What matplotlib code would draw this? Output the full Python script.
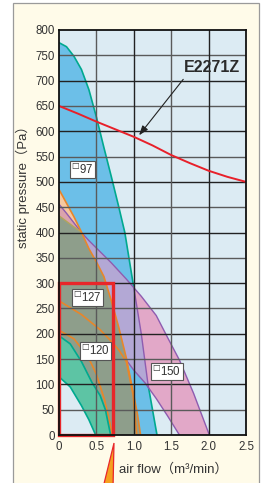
import matplotlib.pyplot as plt
from matplotlib.patches import Polygon, Rectangle

plt.rcParams['font.family'] = ['Liberation Sans', 'Noto Sans CJK JP', 'DejaVu Sans']

# fan curves: air flow (m3/min) -> static pressure (Pa)
flow_97 = [0, 0.1, 0.2, 0.3, 0.4, 0.5, 0.6, 0.7, 0.8, 0.88, 0.99, 1.1, 1.19, 1.25, 1.31]
pres_97 = [775, 767, 748, 722, 682, 628, 568, 510, 450, 400, 300, 200, 100, 50, 0]

flow_150_hi = [0, 0.1, 0.2, 0.3, 0.4, 0.55, 0.7, 0.9, 1.1, 1.3, 1.45, 1.61, 1.8, 2.01]
pres_150_hi = [456, 438, 419, 400, 384, 362, 340, 308, 274, 236, 193, 148, 82, 0]
flow_150_lo = [0, 0.3, 0.6, 0.88, 1.0, 1.15, 1.3, 1.45, 1.61]
pres_150_lo = [290, 250, 205, 152, 128, 103, 72, 38, 0]

flow_127 = [0, 0.1, 0.2, 0.29, 0.4, 0.5, 0.6, 0.7, 0.8, 0.9, 0.99, 1.05, 1.09]
pres_127 = [485, 458, 431, 404, 368, 342, 313, 265, 212, 152, 86, 40, 0]
flow_127_in = [0, 0.3, 0.55, 0.68, 0.8, 0.9, 0.99, 1.04]
pres_127_in = [265, 238, 208, 188, 168, 145, 80, 0]
flow_top = [0, 0.1, 0.2, 0.29]
pres_top = [433, 422, 411, 402]

flow_120_a = [0, 0.2, 0.39, 0.5, 0.61, 0.68, 0.71]
pres_120_a = [207, 190, 154, 120, 69, 24, 0]
flow_120_hi = [0, 0.15, 0.3, 0.44, 0.55, 0.62, 0.69]
pres_120_hi = [196, 180, 145, 104, 78, 50, 0]
flow_120_lo = [0, 0.15, 0.3, 0.4, 0.49]
pres_120_lo = [115, 95, 58, 30, 0]

# system impedance curve E2271Z
flow_sys = [0, 0.25, 0.5, 0.75, 1.0, 1.25, 1.5, 1.75, 2.0, 2.25, 2.5]
pres_sys = [650, 635, 619, 604, 589, 572, 553, 537, 522, 510, 500]

box_flow, box_pres = 0.72, 300

labels = ['97', '127', '120', '150']
label_flow = [0.31, 0.38, 0.49, 1.44]
label_pres = [524, 271, 166, 125]

x_ticks = [0, 0.5, 1.0, 1.5, 2.0, 2.5]
x_tick_labels = ['0', '0.5', '1.0', '1.5', '2.0', '2.5']
y_ticks = list(range(0, 801, 50))

BG = '#dcebf3'
TEAL = '#00a98f'
ORANGE = '#e8862a'
PURPLE = '#8e5cb0'


def band(ax, ux, uy, lx, ly, **kw):
    pts = list(zip(ux, uy)) + list(zip(lx, ly))[::-1]
    p = Polygon(pts, closed=True, **kw)
    ax.add_patch(p)
    return p


fig = plt.figure(figsize=(2.66, 4.83), dpi=100)
fig.patch.set_facecolor('white')
fig.add_artist(Rectangle((13 / 266, -0.02), 246 / 266, 0.9938 + 0.02, zorder=-5,
                         transform=fig.transFigure, fc='#fffbe9', ec='#9a9a9a', lw=0.9))

ax = fig.add_axes([59 / 266, 48 / 483, 187 / 266, 405 / 483])
ax.set_facecolor(BG)
ax.set_xlim(0, 2.5)
ax.set_ylim(0, 800)

# 97 fan
blue = band(ax, flow_97, pres_97, [0], [0], fc='#6cbfe8', ec='none', zorder=1)
ax.plot(flow_97, pres_97, color=TEAL, lw=1.2, zorder=1.1)

# 150 fan band
pink = band(ax, flow_150_hi, pres_150_hi, flow_150_lo, pres_150_lo, fc='#e2a8c8', ec='none', zorder=1.2)
lav = band(ax, flow_150_hi, pres_150_hi, flow_150_lo, pres_150_lo, fc='#b3a8d5', ec='none', zorder=1.3)
lav.set_clip_path(blue)
edge97 = ax.plot(flow_97, pres_97, color=PURPLE, lw=1.0, zorder=1.35)[0]
edge97.set_clip_path(pink)

# 127 fan
peach = band(ax, flow_127, pres_127, [0], [0], fc='#f6c8a0', ec='none', zorder=1.4)
mauve = band(ax, flow_150_hi, pres_150_hi, flow_150_lo, pres_150_lo, fc='#dba3ac', ec='none', zorder=1.45)
mauve.set_clip_path(peach)
ax.plot(flow_150_hi, pres_150_hi, color=PURPLE, lw=1.0, zorder=1.5)
ax.plot(flow_150_lo, pres_150_lo, color=PURPLE, lw=1.0, zorder=1.5)

olive_x = flow_top + [f for f in flow_127 if f > 0.3]
olive_y = pres_top + [p for f, p in zip(flow_127, pres_127) if f > 0.3]
band(ax, olive_x, olive_y, [0], [0], fc='#8e9e8b', ec='none', zorder=1.6)

# 120 fan
band(ax, flow_120_hi, pres_120_hi, flow_120_lo, pres_120_lo, fc='#5dc4a4', ec='none', zorder=1.7)
band(ax, flow_120_lo, pres_120_lo, [0], [0], fc=BG, ec='none', zorder=1.75)

ax.plot(flow_top, pres_top, color='#b3a55a', lw=1.0, zorder=1.8)
ax.plot(flow_127, pres_127, color=ORANGE, lw=1.2, zorder=1.85)
ax.plot(flow_127_in, pres_127_in, color=ORANGE, lw=1.2, zorder=1.85)
ax.plot(flow_120_a, pres_120_a, color=ORANGE, lw=1.2, zorder=1.85)
ax.plot(flow_120_hi, pres_120_hi, color=TEAL, lw=1.2, zorder=1.85)
ax.plot(flow_120_lo, pres_120_lo, color=TEAL, lw=1.2, zorder=1.85)

# grid on top of the fills
for v in y_ticks[1:-1]:
    c = '#222222' if v % 100 == 0 else '#5a5a5a'
    ax.axhline(v, color=c, lw=1.0, zorder=3)
for v in x_ticks[1:-1]:
    c = '#222222' if v in (1.0, 2.0) else '#5a5a5a'
    ax.axvline(v, color=c, lw=1.0, zorder=3)

ax.plot(flow_sys, pres_sys, color='#e8202a', lw=1.4, zorder=4)
ax.add_patch(Rectangle((0, 0), box_flow, box_pres, fc='none', ec='#e8262a', lw=2.4, zorder=4, clip_on=False))

ax.annotate('E2271Z', xy=(1.07, 592), xytext=(2.04, 725), ha='center', va='center',
            fontsize=11.5, fontweight='bold', color='#2b2b2b', zorder=6,
            arrowprops=dict(arrowstyle='-|>,head_length=0.5,head_width=0.18', color='#222222',
                            lw=0.8, relpos=(0.05, 0.0), shrinkA=1, shrinkB=0))

for t, fx, py in zip(labels, label_flow, label_pres):
    ax.text(fx, py, '$^{\u25a1}$' + t, ha='center', va='center', fontsize=8.3, color='#333333', zorder=6,
            bbox=dict(boxstyle='square,pad=0.12', fc='white', ec='#555555', lw=0.8))

for s in ax.spines.values():
    s.set_color('#111111')
    s.set_linewidth(1.3)
    s.set_zorder(5)

ax.set_xticks(x_ticks)
ax.set_xticklabels(x_tick_labels)
ax.set_yticks(y_ticks)
ax.set_yticklabels([str(v) for v in y_ticks])
ax.tick_params(length=0, labelsize=8.3, colors='#333333')
ax.tick_params(axis='y', pad=3)
ax.tick_params(axis='x', pad=4)
for lbl in ax.get_xticklabels() + ax.get_yticklabels():
    lbl.set_family(['Liberation Sans Narrow', 'Liberation Sans'])

ax.set_ylabel('static pressure（Pa）', fontsize=9.5, color='#333333')
ax.yaxis.set_label_coords(-0.155, 0.62)
ax.set_xlabel('air flow（m³/min）', fontsize=9.5, color='#333333')
ax.xaxis.set_label_coords(0.612, -0.069)

# callout wedge under the red box
wedge = [(114 / 266, 1 - 443 / 483), (103 / 266, -0.01), (113 / 266, -0.01)]
fig.add_artist(Polygon(wedge, closed=True, transform=fig.transFigure, fc='#f5a020', ec='#e8262a', lw=0.9))

fig.savefig('out.png', dpi=100)
